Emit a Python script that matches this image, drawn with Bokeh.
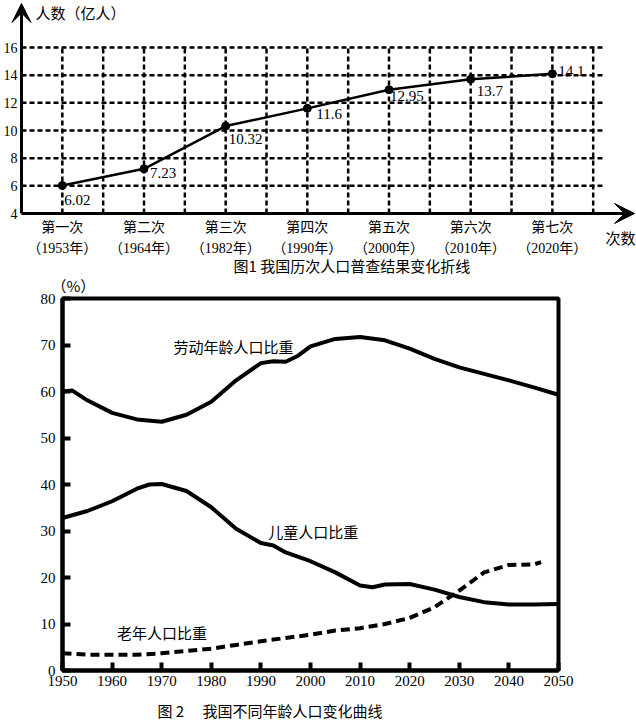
from bokeh.plotting import figure
from bokeh.models import (Range1d, FixedTicker, LabelSet, Label, Arrow, VeeHead,
                          ColumnDataSource, BoxAnnotation)
from bokeh.layouts import column
from bokeh.embed import file_html
from bokeh.resources import INLINE

# ---------------- Data: figure 1 ----------------
census = ["第一次", "第二次", "第三次", "第四次", "第五次", "第六次", "第七次"]
census_years = ["（1953年）", "（1964年）", "（1982年）", "（1990年）",
                "（2000年）", "（2010年）", "（2020年）"]
population = [6.02, 7.23, 10.32, 11.6, 12.95, 13.7, 14.1]
pop_labels = ["6.02", "7.23", "10.32", "11.6", "12.95", "13.7", "14.1"]
pop_ticks = [4, 6, 8, 10, 12, 14, 16]

# ---------------- Data: figure 2 ----------------
year_ticks = [1950, 1960, 1970, 1980, 1990, 2000, 2010, 2020, 2030, 2040, 2050]
pct_ticks = [0, 10, 20, 30, 40, 50, 60, 70, 80]

labor_years = [1950, 1952, 1955, 1960, 1965, 1970, 1975, 1980, 1985, 1990, 1992.5,
               1995, 1997.5, 2000, 2005, 2010, 2015, 2020, 2025, 2030, 2035, 2040,
               2045, 2050]
labor_pct = [60.0, 60.2, 58.1, 55.4, 54.0, 53.5, 55.0, 57.8, 62.4, 66.1, 66.5,
             66.4, 67.7, 69.7, 71.3, 71.7, 71.0, 69.2, 67.0, 65.2, 63.8, 62.4,
             60.9, 59.3]

child_years = [1950, 1955, 1960, 1965, 1967.5, 1970, 1975, 1980, 1985, 1990, 1992.5,
               1995, 2000, 2005, 2010, 2012.5, 2015, 2020, 2025, 2030, 2035, 2040,
               2045, 2050]
child_pct = [32.8, 34.3, 36.4, 39.1, 40.0, 40.1, 38.6, 35.1, 30.5, 27.4, 26.9,
             25.4, 23.5, 21.1, 18.3, 17.9, 18.5, 18.6, 17.4, 15.8, 14.7, 14.2,
             14.2, 14.3]

elder_years = [1950, 1955, 1960, 1965, 1970, 1975, 1980, 1985, 1990, 1995, 2000,
               2005, 2010, 2015, 2020, 2025, 2030, 2035, 2040, 2045, 2046.5]
elder_pct = [3.7, 3.4, 3.4, 3.4, 3.7, 4.2, 4.7, 5.5, 6.3, 7.0, 7.7,
             8.6, 9.1, 10.0, 11.3, 13.6, 17.2, 21.1, 22.7, 22.8, 23.3]

CJK = "Noto Sans CJK SC"
SERIF = "Liberation Serif"
MIXED = "Liberation Serif, Noto Sans CJK SC"

# ================= Figure 1 =================
PX_X = 81.67   # px per census step
PX_Y = 13.833  # px per 1 (亿人)
idx = list(range(len(census)))
p1 = figure(width=636, height=276, output_backend="svg", toolbar_location=None,
            x_range=Range1d(-0.5 - 21 / PX_X, -0.5 + 615 / PX_X),
            y_range=Range1d(4 - 63 / PX_Y, 4 + 213 / PX_Y),
            min_border=0)
p1.frame_align = False
p1.outline_line_color = None
p1.background_fill_color = "white"
p1.border_fill_color = "white"
p1.xgrid.grid_line_color = None
p1.ygrid.grid_line_color = None

# y axis (labels only; line drawn as arrow)
p1.yaxis.fixed_location = -0.5
p1.yaxis.ticker = FixedTicker(ticks=pop_ticks)
p1.yaxis.axis_line_color = None
p1.yaxis.major_tick_line_color = None
p1.yaxis.major_tick_in = 0
p1.yaxis.major_tick_out = 0
p1.yaxis.minor_tick_line_color = None
p1.yaxis.major_label_text_font = SERIF
p1.yaxis.major_label_text_font_size = "14px"
p1.yaxis.major_label_text_color = "black"
p1.yaxis.major_label_standoff = 4

# x axis: census labels
p1.xaxis.fixed_location = 4
p1.xaxis.ticker = FixedTicker(ticks=idx)
p1.xaxis.major_label_overrides = {i: f"{census[i]}\n{census_years[i]}" for i in idx}
p1.xaxis.axis_line_color = None
p1.xaxis.major_tick_line_color = None
p1.xaxis.major_tick_in = 0
p1.xaxis.major_tick_out = 0
p1.xaxis.minor_tick_line_color = None
p1.xaxis.major_label_text_font = MIXED
p1.xaxis.major_label_text_font_size = "14px"
p1.xaxis.major_label_text_color = "black"
p1.xaxis.major_label_text_line_height = 1.45
p1.xaxis.major_label_standoff = 6

# dashed grid
hgrid = pop_ticks[1:]
vgrid = [i * 0.5 for i in range(14)]
p1.segment(x0=[-0.5] * len(hgrid), x1=[6.64] * len(hgrid), y0=hgrid, y1=hgrid,
           line_color="black", line_width=2.5, line_dash="5 3")
p1.segment(x0=vgrid, x1=vgrid, y0=[4] * len(vgrid), y1=[16] * len(vgrid),
           line_color="black", line_width=2.5, line_dash="5 3")

# axes with arrows
p1.add_layout(Arrow(end=VeeHead(size=19, fill_color="black", line_color="black"),
                    x_start=-0.5, y_start=4, x_end=-0.5, y_end=4 + 210 / PX_Y,
                    line_width=3, line_color="black"))
p1.add_layout(Arrow(end=VeeHead(size=20, fill_color="black", line_color="black"),
                    x_start=-0.5, y_start=4, x_end=-0.5 + 613 / PX_X, y_end=4,
                    line_width=3, line_color="black"))

# data
p1.line(idx, population, line_color="black", line_width=2.5)
p1.scatter(idx, population, size=8, fill_color="black", line_color="black")
lbl_dx = [2, 6, 3, 9, 1, 6, 6]
lbl_dy = [-14, -4, -13, -6, -6, -12, 3]
src1 = ColumnDataSource(dict(x=idx, y=population, t=pop_labels, dx=lbl_dx, dy=lbl_dy))
p1.add_layout(LabelSet(x="x", y="y", text="t", source=src1, x_offset="dx", y_offset="dy",
                       text_font=SERIF, text_font_size="15px", text_color="black",
                       text_baseline="middle", text_align="left"))

p1.add_layout(Label(x=-0.5 + 14 / PX_X, y=4 + 201 / PX_Y, text="人数（亿人）",
                    text_font=CJK, text_font_size="15px", text_baseline="middle",
                    text_align="left", text_color="black"))
p1.add_layout(Label(x=-0.5 + 584 / PX_X, y=4, y_offset=-24, text="次数",
                    text_font=CJK, text_font_size="15px", text_baseline="middle",
                    text_align="left", text_color="black"))
p1.add_layout(Label(x=-0.5 + 212 / PX_X, y=4, y_offset=-52,
                    text="图1  我国历次人口普查结果变化折线",
                    text_font=CJK, text_font_size="15px", text_baseline="middle",
                    text_align="left", text_color="black"))

# ================= Figure 2 =================
PX_YR = 4.96   # px per year
PX_PCT = 4.65  # px per percent
p2 = figure(width=636, height=444, output_backend="svg", toolbar_location=None,
            x_range=Range1d(1950 - 62 / PX_YR, 1950 + 574 / PX_YR),
            y_range=Range1d(-50 / PX_PCT, 80 + 22 / PX_PCT),
            min_border=0)
p2.frame_align = False
p2.outline_line_color = None
p2.background_fill_color = "white"
p2.border_fill_color = "white"
p2.xgrid.grid_line_color = None
p2.ygrid.grid_line_color = None

p2.xaxis.fixed_location = 0
p2.yaxis.fixed_location = 1950
p2.xaxis.bounds = (1950, 2050)
p2.yaxis.bounds = (0, 80)
for ax, ticks in ((p2.xaxis, year_ticks), (p2.yaxis, pct_ticks)):
    ax.ticker = FixedTicker(ticks=ticks)
    ax.axis_line_width = 4
    ax.axis_line_color = "black"
    ax.major_tick_in = 8
    ax.major_tick_out = 0
    ax.major_tick_line_width = 4
    ax.major_tick_line_color = "black"
    ax.minor_tick_line_color = None
    ax.major_label_text_font = SERIF
    ax.major_label_text_font_size = "15px"
    ax.major_label_text_color = "black"
p2.yaxis.major_label_standoff = 7
p2.xaxis.major_label_standoff = 5

p2.add_layout(BoxAnnotation(left=1950, right=2050, bottom=0, top=80,
                            fill_color=None, line_color="black", line_alpha=1.0,
                            line_width=4))

p2.line(labor_years, labor_pct, line_color="black", line_width=4, line_join="round")
p2.line(child_years, child_pct, line_color="black", line_width=4, line_join="round")
p2.line(elder_years, elder_pct, line_color="black", line_width=4, line_dash="9 5")

p2.add_layout(Label(x=1972.4, y=69.7, text="劳动年龄人口比重", text_font=CJK,
                    text_font_size="15px", text_baseline="middle", text_align="left",
                    text_color="black"))
p2.add_layout(Label(x=1991.5, y=29.8, text="儿童人口比重", text_font=CJK,
                    text_font_size="15px", text_baseline="middle", text_align="left",
                    text_color="black"))
p2.add_layout(Label(x=1961.0, y=8.2, text="老年人口比重", text_font=CJK,
                    text_font_size="15px", text_baseline="middle", text_align="left",
                    text_color="black"))
p2.add_layout(Label(x=1950 - 11 / PX_YR, y=80 + 13 / PX_PCT, text="（%）", text_font=CJK,
                    text_font_size="15px", text_baseline="middle", text_align="left",
                    text_color="black"))
p2.add_layout(Label(x=1950 + 95 / PX_YR, y=-39.5 / PX_PCT,
                    text="图 2　 我国不同年龄人口变化曲线",
                    text_font=CJK, text_font_size="15px", text_baseline="middle",
                    text_align="left", text_color="black"))

layout = column(p1, p2, spacing=0)
open("out.html", "w").write(file_html(layout, INLINE))
